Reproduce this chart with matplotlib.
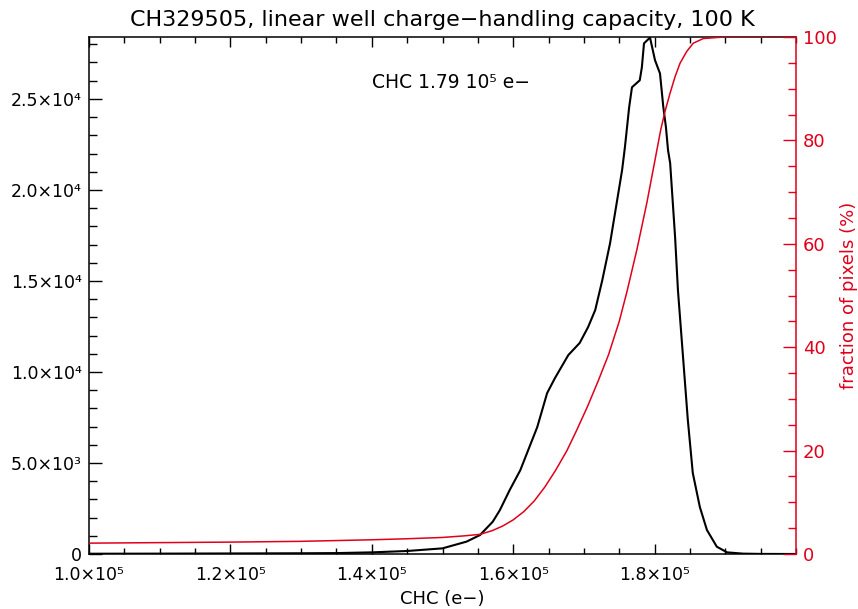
import matplotlib
matplotlib.use("Agg")
import matplotlib.pyplot as plt
from matplotlib.ticker import MultipleLocator, FixedLocator, FixedFormatter

# ---- data ----
hist_chc = [100000, 110000, 120000, 130000, 135000, 140000, 145000, 150000,
            153400, 155300, 157100, 158100, 159500, 161000, 163400, 164800,
            165900, 167800, 169400, 170600, 171600, 172600, 173700, 175400,
            175800, 176400, 176800, 177900, 178200, 178500, 179350, 180060,
            180760, 181230, 181600, 181900, 182200, 182900, 183300,
            184700, 185400, 186400, 187400, 188800, 190250, 192500, 195000,
            200000]
hist_counts = [15, 20, 30, 40, 50, 90, 165, 310,
               680, 1040, 1770, 2400, 3510, 4600, 6970, 8840,
               9660, 10930, 11590, 12470, 13400, 15040, 17070, 21080,
               22340, 24540, 25640, 26020, 26740, 28050, 28370, 27120,
               26400, 24560, 23460, 22180, 21470, 17400, 14500,
               7360, 4450, 2580, 1320, 400, 90, 20, 5,
               0]

cum_chc = [100000, 120000, 130000, 140000, 145000, 150000, 153000, 155300,
           157000, 158500, 160000, 161500, 163000, 164500, 166000, 167600,
           169000, 170500, 172000, 173500, 175000, 176100, 177500, 178900,
           180000, 180860, 181470, 182180, 182890, 183590, 184540, 185470,
           186890, 188800, 190000, 200000]
cum_pct = [2.1, 2.3, 2.45, 2.75, 2.95, 3.2, 3.5, 3.8,
           4.5, 5.4, 6.6, 8.2, 10.3, 13.0, 16.2, 20.0,
           24.0, 28.5, 33.4, 38.6, 45.0, 50.8, 58.9, 67.9,
           75.8, 82.0, 85.6, 89.1, 92.3, 94.9, 97.2, 98.8,
           99.7, 99.9, 100.0, 100.0]

x_ticks = [100000, 120000, 140000, 160000, 180000]
x_ticklabels = ["1.0×10⁵", "1.2×10⁵", "1.4×10⁵", "1.6×10⁵", "1.8×10⁵"]
y_ticks = [0, 5000, 10000, 15000, 20000, 25000]
y_ticklabels = ["0", "5.0×10³", "1.0×10⁴", "1.5×10⁴", "2.0×10⁴", "2.5×10⁴"]
r_ticks = [0, 20, 40, 60, 80, 100]
r_ticklabels = ["0", "20", "40", "60", "80", "100"]

title = "CH329505, linear well charge\u2212handling capacity, 100 K"
annot = "CHC 1.79 10\u2075 e\u2212"
RED = "#e0001b"

plt.rcParams['font.family'] = ['DejaVu Sans']

fig = plt.figure(figsize=(8.58, 6.09), dpi=100)
ax = fig.add_axes([89/858, 55/609, (796-89)/858, (554-37)/609])

ax.plot(hist_chc, hist_counts, color="black", lw=1.5)
ax.set_xlim(100000, 200000)
ax.set_ylim(0, 28400)

ax.xaxis.set_major_locator(FixedLocator(x_ticks))
ax.xaxis.set_major_formatter(FixedFormatter(x_ticklabels))
ax.xaxis.set_minor_locator(MultipleLocator(5000))
ax.yaxis.set_major_locator(FixedLocator(y_ticks))
ax.yaxis.set_major_formatter(FixedFormatter(y_ticklabels))
ax.yaxis.set_minor_locator(MultipleLocator(1000))

ax.tick_params(axis='x', which='major', direction='in', length=7.5, width=1.0,
               top=True, labelsize=12.5, pad=9)
ax.tick_params(axis='x', which='minor', direction='in', length=4, width=1.0, top=True)
ax.tick_params(axis='y', which='major', direction='in', length=9.5, width=1.0,
               right=False, labelsize=12.5, pad=5)
ax.tick_params(axis='y', which='minor', direction='in', length=5.5, width=1.0, right=False)
for s in ax.spines.values():
    s.set_linewidth(1.1)
ax.spines['right'].set_visible(False)

ax.set_xlabel("CHC (e\u2212)", fontsize=13, labelpad=4)
ax.set_title(title, fontsize=16, pad=8)
ax.text(140000, 25600, annot, fontsize=13.5, ha='left', va='baseline')

ax2 = ax.twinx()
ax2.plot(cum_chc, cum_pct, color=RED, lw=1.1)
ax2.set_ylim(0, 100)
ax2.yaxis.set_major_locator(FixedLocator(r_ticks))
ax2.yaxis.set_major_formatter(FixedFormatter(r_ticklabels))
ax2.yaxis.set_minor_locator(MultipleLocator(5))
ax2.tick_params(axis='y', which='major', direction='in', length=9.5, width=1.0,
                colors=RED, labelsize=13, pad=5)
ax2.tick_params(axis='y', which='minor', direction='in', length=5.5, width=1.0, colors=RED)
for k, s in ax2.spines.items():
    s.set_visible(k == 'right')
ax2.spines['right'].set_color(RED)
ax2.spines['right'].set_linewidth(1.1)
ax2.set_ylabel("fraction of pixels (%)", color=RED, fontsize=13)
ax2.yaxis.set_label_coords(1.062, 0.5)

fig.savefig("out.png", dpi=100)
